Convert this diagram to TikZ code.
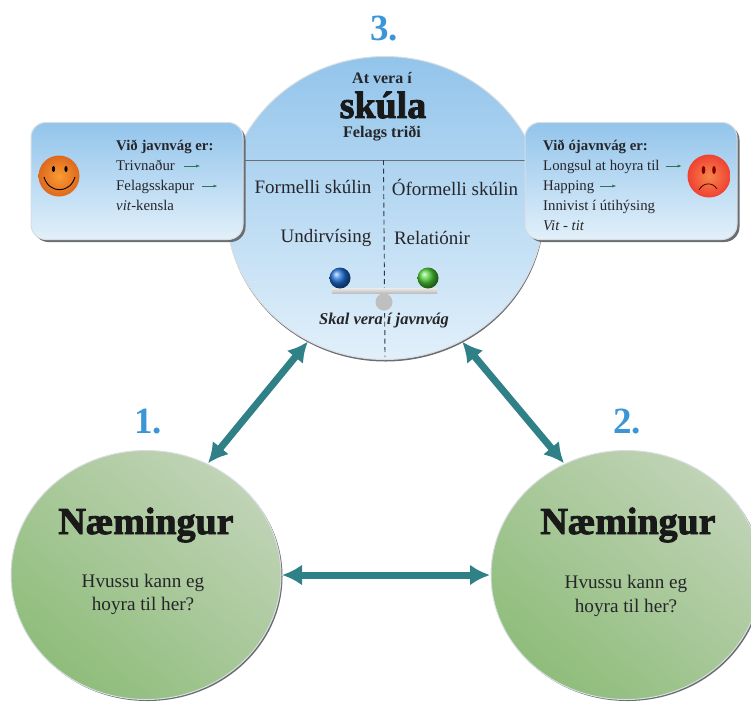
\documentclass[tikz,border=0pt]{standalone}
\usepackage{fontspec}
\usepackage{tikz}
\usetikzlibrary{arrows.meta,shapes.geometric,shadows}
\setmainfont{Liberation Serif}
\newfontfamily\fatface[BoldFeatures={FakeBold=2.4}]{Liberation Serif}
\definecolor{skytop}{RGB}{146,196,235}
\definecolor{skybot}{RGB}{226,240,250}
\definecolor{rim}{RGB}{216,221,225}
\definecolor{rimdark}{RGB}{105,110,115}
\definecolor{greenlo}{RGB}{143,189,123}
\definecolor{greenhi}{RGB}{192,211,182}
\definecolor{teal1}{RGB}{48,128,136}
\definecolor{numblue}{RGB}{58,150,215}
\definecolor{ink}{RGB}{38,38,42}
\definecolor{dashink}{RGB}{45,55,75}
\definecolor{tinygreen}{RGB}{45,115,85}
\definecolor{ballblue}{RGB}{30,110,215}
\definecolor{ballgreen}{RGB}{75,205,50}
\tikzset{
  round/.style={ellipse,inner sep=0pt,outer sep=1pt,draw=rim,line width=1pt},
  skybody/.style={round,minimum width=318pt,minimum height=303pt,top color=skytop,bottom color=skybot,
    drop shadow={shadow xshift=0.5pt,shadow yshift=-2pt,fill=rimdark,opacity=1}},
  greenbody/.style={round,minimum width=270pt,minimum height=249pt,
    top color=greenhi,bottom color=greenlo,shading angle=-40,
    drop shadow={shadow xshift=1.5pt,shadow yshift=-1.5pt,fill=rimdark,opacity=1}},
  sidebox/.style={rectangle,rounded corners=15pt,inner sep=0pt,draw=rim,line width=1pt,
    minimum width=212pt,minimum height=117pt,top color=skytop,bottom color=skybot,
    drop shadow={shadow xshift=2.5pt,shadow yshift=-2.5pt,fill=rimdark,opacity=1}},
  txt/.style={inner sep=0pt,text=ink,font=\fontsize{19}{19}\selectfont},
  hvu/.style={inner sep=0pt,text=ink,font=\fontsize{19.2}{19}\selectfont},
  small/.style={inner sep=0pt,text=ink,anchor=base west,font=\fontsize{14.8}{15}\selectfont},
  num/.style={inner sep=0pt,text=numblue,font=\fontsize{37}{37}\selectfont\bfseries},
  fat/.style={inner sep=0pt,text=black!90,font=\fontsize{38}{38}\selectfont\fatface\bfseries},
  twohead/.style={teal1,line width=7pt,{Latex[length=20pt,width=21pt]}-{Latex[length=20pt,width=21pt]}},
  tiny/.style={tinygreen,line width=.6pt,-{Latex[length=4pt,width=3pt]}}
}
\begin{document}
\begin{tikzpicture}[x=1pt,y=-1pt]
  \useasboundingbox (0,0) rectangle (751,702);

  \node[num] (num3) at (384,29) {3.};
  \node[num] (num1) at (148,422) {1.};
  \node[num] (num2) at (627,422) {2.};

  \node[skybody] (skuli) at (385,208) {};
  \node[greenbody] (naem1) at (146,575) {};
  \node[greenbody] (naem2) at (626,575) {};

  \coordinate (lineL) at (245,160);
  \coordinate (lineR) at (525,160);
  \coordinate (dashT) at (383.5,160);
  \coordinate (dashB) at (385,357);
  \draw[rimdark,line width=.9pt] (lineL) -- (lineR);
  \draw[dashink,line width=.9pt,dash pattern=on 5pt off 3.5pt] (dashT) -- (dashB);

  \node[sidebox] (boxL) at (137,181) {};
  \node[sidebox] (boxR) at (631,181) {};

  \draw[twohead] (naem1.61) -- (skuli.240);
  \draw[twohead] (skuli.300) -- (naem2.119);
  \draw[twohead] (naem1.east) -- (naem2.west);

  \node[txt,font=\fontsize{16}{16}\selectfont\bfseries] (at) at (382,78) {At vera í};
  \node[fat] (sk) at (383,105) {skúla};
  \node[txt,font=\fontsize{16.2}{16}\selectfont\bfseries] (fel) at (382,134) {Felags triði};
  \node[txt] (form) at (313,187) {Formelli skúlin};
  \node[txt] (oform) at (455,187) {Óformelli skúlin};
  \node[txt] (und) at (326,238) {Undirvísing};
  \node[txt] (rel) at (432,238) {Relatiónir};
  \node[txt,font=\fontsize{16.5}{17}\selectfont\bfseries\itshape] (skal) at (384,321) {Skal vera í javnvág};

  \node[circle,minimum size=17pt,inner sep=0pt,fill=black!25] (foot) at (384,302) {};
  \node[rectangle,minimum width=105pt,minimum height=5pt,inner sep=0pt,top color=black!8,bottom color=black!25] (beam) at (384.5,290.5) {};
  \node[circle,minimum size=21pt,inner sep=0pt,ball color=ballblue] (ballB) at (340,278) {};
  \node[circle,minimum size=21pt,inner sep=0pt,ball color=ballgreen] (ballG) at (428,278) {};

  \node[small,font=\fontsize{14.8}{15}\selectfont\bfseries] (l1) at (116,150) {Við javnvág er:};
  \node[small] (l2) at (116,170) {Trivnaður};
  \node[small] (l3) at (116,190) {Felagsskapur};
  \node[small] (l4) at (116,210) {\textit{vit}-kensla};
  \draw[tiny] (l2.base east) ++(9,-4) coordinate (a1) -- ++(16,0) coordinate (a2);
  \draw[tiny] (l3.base east) ++(7,-4) coordinate (a3) -- ++(16,0) coordinate (a4);

  \node[small,font=\fontsize{14.8}{15}\selectfont\bfseries] (r1) at (543,150) {Við ójavnvág er:};
  \node[small] (r2) at (543,170) {Longsul at hoyra til};
  \node[small] (r3) at (543,190) {Happing};
  \node[small] (r4) at (543,210) {Innivist í útihýsing};
  \node[small] (r5) at (543,230) {\textit{Vit - tit}};
  \draw[tiny] (r2.base east) ++(6,-4) coordinate (b1) -- ++(16,0) coordinate (b2);
  \draw[tiny] (r3.base east) ++(6,-4) coordinate (b3) -- ++(16,0) coordinate (b4);

  \node[circle,minimum size=41pt,inner sep=0pt,inner color={rgb,255:red,250;green,155;blue,50},outer color={rgb,255:red,222;green,105;blue,30}] (smile) at (59,176) {};
  \fill (53.5,169) ellipse (1.6 and 3);
  \fill (66,169) ellipse (1.6 and 3);
  \draw[line width=.9pt] (44,177) .. controls (49,194) and (70,194) .. (75,177);

  \node[circle,minimum size=43pt,inner sep=0pt,inner color={rgb,255:red,245;green,135;blue,75},outer color={rgb,255:red,240;green,65;blue,50}] (frown) at (709,176) {};
  \fill[red!50!black] (703.5,170) ellipse (1.8 and 4);
  \fill[red!50!black] (714,170) ellipse (1.8 and 4);
  \draw[red!30!black,line width=.8pt] (699,190) .. controls (703,182) and (713,182) .. (717,189);

  \node[fat] (t1) at (146,525) {Næmingur};
  \node[hvu] (h1) at (143,583) {Hvussu kann eg};
  \node[hvu] (q1) at (143,606) {hoyra til her?};
  \node[fat] (t2) at (628,525) {Næmingur};
  \node[hvu] (h2) at (626,584) {Hvussu kann eg};
  \node[hvu] (q2) at (626,608) {hoyra til her?};
\end{tikzpicture}
\end{document}
